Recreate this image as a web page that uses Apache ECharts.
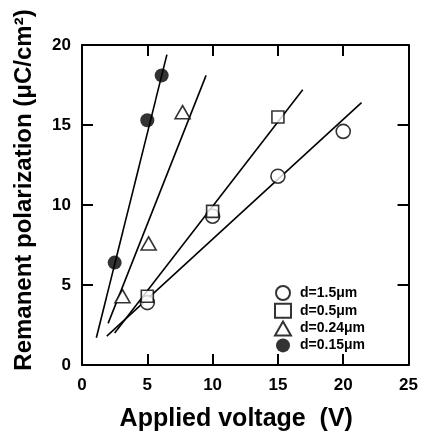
<!DOCTYPE html>
<html>
<head>
<meta charset="utf-8">
<script src="https://cdn.jsdelivr.net/npm/echarts@6/dist/echarts.min.js"></script>
<style>html,body{margin:0;padding:0;background:#fff}#c{width:421px;height:438px}</style>
</head>
<body>
<div id="c"></div>
<script>
// Data
const legendNames = ['d=1.5\u03bcm', 'd=0.5\u03bcm', 'd=0.24\u03bcm', 'd=0.15\u03bcm'];
const v15 = [5, 10, 15, 20];
const p15 = [3.9, 9.3, 11.8, 14.6];
const v05 = [5, 10, 15];
const p05 = [4.3, 9.6, 15.5];
const v024 = [3.1, 5.1, 7.7];
const p024 = [4.3, 7.6, 15.8];
const v015 = [2.5, 5.0, 6.1];
const p015 = [6.4, 15.3, 18.1];
// fitted line endpoints [x, y]
const fit15 = [[1.9, 1.8], [21.4, 16.4]];
const fit05 = [[2.5, 2.0], [16.9, 17.2]];
const fit024 = [[2.0, 2.6], [9.5, 18.1]];
const fit015 = [[1.1, 1.7], [6.5, 19.4]];

const FONT = 'Liberation Sans, Arial, Helvetica, sans-serif';
const zip = (a, b) => a.map((x, i) => [x, b[i]]);

const chart = echarts.init(document.getElementById('c'), null, {renderer: 'canvas'});
const axisCommon = {
  axisLine: {show: true, onZero: false, lineStyle: {color: '#000', width: 2}},
  axisTick: {show: true, inside: true, length: 11, lineStyle: {color: '#000', width: 2}},
  splitLine: {show: false}
};
const lineSeries = (d) => ({
  type: 'line', data: d, symbol: 'none', silent: true,
  lineStyle: {color: '#000', width: 1.6}, z: 1
});
const hollow = {color: '#fff', borderColor: '#000', borderWidth: 1.6};
chart.setOption({
  animation: false,
  backgroundColor: '#fff',
  grid: {left: 82, right: 10, top: 45, bottom: 73},
  xAxis: [
    Object.assign({type: 'value', min: 0, max: 25, interval: 5, position: 'bottom',
      name: 'Applied voltage  (V)', nameLocation: 'middle', nameGap: 42,
      nameTextStyle: {fontFamily: FONT, fontWeight: 'bold', fontSize: 25, color: '#000', padding: [0, 18, 0, 0]},
      axisLabel: {fontFamily: FONT, fontWeight: 'bold', fontSize: 17, color: '#000', margin: 12}}, axisCommon),
    Object.assign({type: 'value', min: 0, max: 25, interval: 5, position: 'top',
      axisLabel: {show: false}}, axisCommon)
  ],
  yAxis: [
    Object.assign({type: 'value', min: 0, max: 20, interval: 5, position: 'left',
      name: 'Remanent polarization (\u03bcC/cm\u00b2)', nameLocation: 'middle', nameGap: 46,
      nameTextStyle: {fontFamily: FONT, fontWeight: 'bold', fontSize: 24, color: '#000', padding: [0, 0, 0, 30]},
      axisLabel: {fontFamily: FONT, fontWeight: 'bold', fontSize: 17, color: '#000', margin: 11}}, axisCommon),
    Object.assign({type: 'value', min: 0, max: 20, interval: 5, position: 'right',
      axisLabel: {show: false}}, axisCommon)
  ],
  legend: {
    data: legendNames, orient: 'vertical', left: 269, top: 280,
    itemWidth: 16, itemHeight: 14, itemGap: 1.8,
    textStyle: {fontFamily: FONT, fontWeight: 'bold', fontSize: 14, color: '#000', padding: [0, 0, 0, 4]}
  },
  series: [
    lineSeries(fit15), lineSeries(fit05), lineSeries(fit024), lineSeries(fit015),
    {name: legendNames[0], type: 'scatter', data: zip(v15, p15), symbol: 'circle', symbolSize: 14, itemStyle: hollow, z: 3},
    {name: legendNames[1], type: 'scatter', data: zip(v05, p05), symbol: 'rect', symbolSize: 12, itemStyle: hollow, z: 3},
    {name: legendNames[2], type: 'scatter', data: zip(v024, p024), symbol: 'triangle', symbolSize: [15, 13], itemStyle: hollow, z: 3},
    {name: legendNames[3], type: 'scatter', data: zip(v015, p015), symbol: 'circle', symbolSize: 14, itemStyle: {color: '#000'}, z: 3}
  ]
});
</script>
</body>
</html>
